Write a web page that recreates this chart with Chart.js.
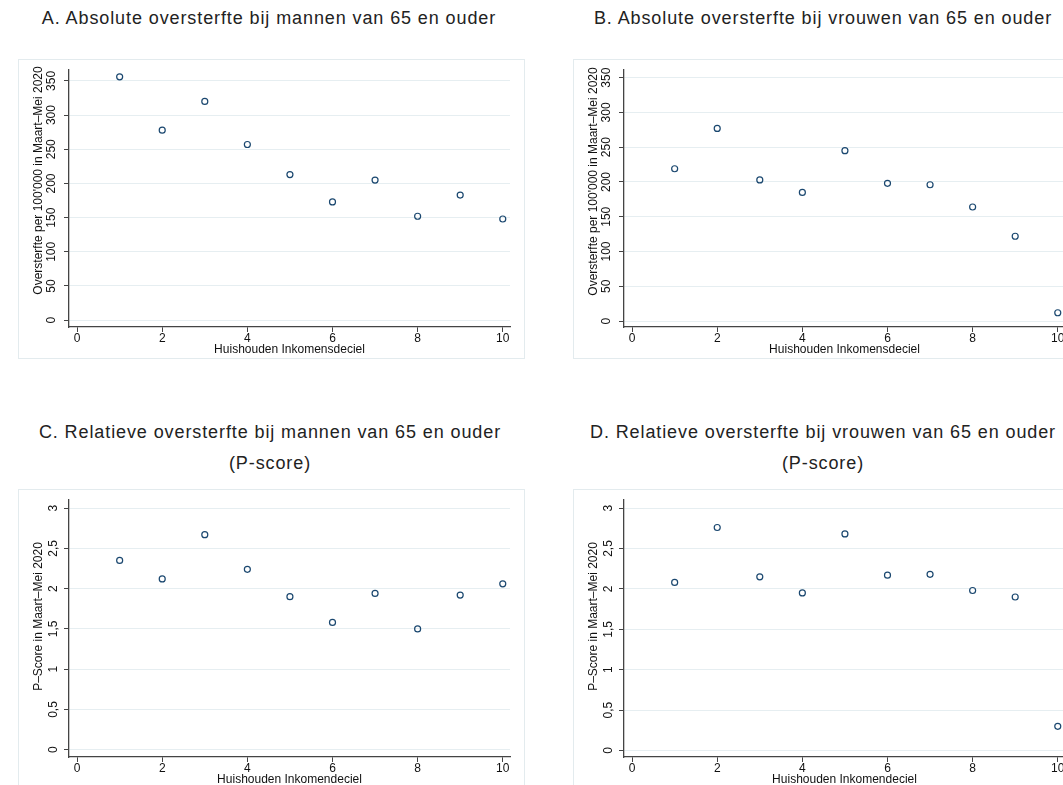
<!DOCTYPE html>
<html>
<head>
<meta charset="utf-8">
<script src="https://cdn.jsdelivr.net/npm/chart.js@4.4.1/dist/chart.umd.min.js"></script>
<style>
  html, body { margin: 0; padding: 0; background: #fff; }
  body { width: 1063px; height: 785px; overflow: hidden; position: relative;
         font-family: "Liberation Sans", Arial, Helvetica, sans-serif; }
  .title { position: absolute; width: 600px; text-align: center; font-size: 18px;
           letter-spacing: 0.9px; line-height: 31px; color: #222; white-space: nowrap; }
  .panel { position: absolute; width: 505px; height: 298px; border: 1px solid #e3ebee; }
  .panel canvas { display: block; }
</style>
</head>
<body>
<div class="title" style="left:-31px; top:3px;">A. Absolute oversterfte bij mannen van 65 en ouder</div>
<div class="title" style="left:523px; top:3px;">B. Absolute oversterfte bij vrouwen van 65 en ouder</div>
<div class="title" style="left:-30px; top:417px;">C. Relatieve oversterfte bij mannen van 65 en ouder<br>(P-score)</div>
<div class="title" style="left:523px; top:417px;">D. Relatieve oversterfte bij vrouwen van 65 en ouder<br>(P-score)</div>

<div class="panel" style="left:18px; top:59px;"><canvas id="chartA" width="505" height="298"></canvas></div>
<div class="panel" style="left:573px; top:59px;"><canvas id="chartB" width="505" height="298"></canvas></div>
<div class="panel" style="left:18px; top:489px;"><canvas id="chartC" width="505" height="298"></canvas></div>
<div class="panel" style="left:573px; top:489px;"><canvas id="chartD" width="505" height="298"></canvas></div>

<script>
// data
const deciles = [1, 2, 3, 4, 5, 6, 7, 8, 9, 10];
const absMen = [356, 278, 320, 257, 213, 173, 205, 152, 183, 148];
const absWomen = [219, 277, 203, 185, 245, 198, 196, 164, 122, 12];
const pMen = [2.35, 2.12, 2.67, 2.24, 1.90, 1.58, 1.94, 1.50, 1.92, 2.06];
const pWomen = [2.08, 2.76, 2.15, 1.95, 2.68, 2.17, 2.18, 1.98, 1.90, 0.30];

const xTicks = [0, 2, 4, 6, 8, 10];
const xTickLabels = ['0', '2', '4', '6', '8', '10'];
const absTicks = [0, 50, 100, 150, 200, 250, 300, 350];
const absTickLabels = ['0', '50', '100', '150', '200', '250', '300', '350'];
const pTicks = [0, 0.5, 1, 1.5, 2, 2.5, 3];
const pTickLabels = ['0', '0,5', '1', '1,5', '2', '2,5', '3'];

const absTitle = "Oversterfte per 100'000 in Maart\u2013Mei 2020";
const pTitle = 'P\u2013Score in Maart\u2013Mei 2020';
const xTitleAbs = 'Huishouden Inkomensdeciel';
const xTitleP = 'Huishouden Inkomendeciel';

const fontFamily = '"Liberation Sans", Arial, Helvetica, sans-serif';
Chart.defaults.font.family = fontFamily;
Chart.defaults.color = '#111';

const axisColor = '#444';
const gridColor = '#e6eef1';

// y title, drawn a bit above the middle of the axis like the original
const yTitlePlugin = {
    id: 'yTitle',
    afterDraw(chart, args, opts) {
        const { ctx, chartArea } = chart;
        ctx.save();
        ctx.translate(opts.x, (chartArea.top + chartArea.bottom) / 2 - opts.shift);
        ctx.rotate(-Math.PI / 2);
        ctx.font = '12px ' + fontFamily;
        ctx.fillStyle = '#111';
        ctx.textAlign = 'center';
        ctx.textBaseline = 'middle';
        ctx.fillText(opts.text, 0, 0);
        ctx.restore();
    }
};

function makePanel(id, values, yTicks, yLabels, yMin, yMax, yTitle, shift, xTitle) {
    const ctx = document.getElementById(id).getContext('2d');
    return new Chart(ctx, {
        type: 'scatter',
        data: {
            datasets: [{
                data: deciles.map((d, i) => ({ x: d, y: values[i] })),
                borderColor: '#1a476f',
                backgroundColor: 'rgba(0,0,0,0)',
                borderWidth: 1.2,
                pointRadius: 3,
                pointHoverRadius: 3
            }]
        },
        options: {
            responsive: false,
            animation: false,
            layout: { padding: { top: 10, right: 14, left: 0, bottom: 0 } },
            plugins: {
                legend: { display: false },
                tooltip: { enabled: false },
                yTitle: { text: yTitle, x: 20, shift: shift }
            },
            scales: {
                x: {
                    type: 'linear',
                    min: -0.19,
                    max: 10.17,
                    afterBuildTicks: s => { s.ticks = xTicks.map(v => ({ value: v })); },
                    afterFit: s => { s.height = 31; },
                    grid: { drawOnChartArea: false, tickLength: 5, tickColor: axisColor, tickWidth: 1 },
                    border: { color: axisColor, width: 1.3 },
                    ticks: { font: { size: 12 }, padding: -1, maxRotation: 0,
                             callback: (v, i) => xTickLabels[i] },
                    title: { display: true, text: xTitle, font: { size: 12 }, padding: { top: 0, bottom: 1 } }
                },
                y: {
                    type: 'linear',
                    min: yMin,
                    max: yMax,
                    afterBuildTicks: s => { s.ticks = yTicks.map(v => ({ value: v })); },
                    afterFit: s => { s.width = 50; },
                    grid: { color: gridColor, lineWidth: 1, tickLength: 5, tickColor: axisColor, tickWidth: 1 },
                    border: { color: axisColor, width: 1.3 },
                    ticks: { font: { size: 12 }, padding: 2.3, minRotation: 90, maxRotation: 90,
                             crossAlign: 'center', callback: (v, i) => yLabels[i] },
                    title: { display: false }
                }
            }
        },
        plugins: [yTitlePlugin]
    });
}

makePanel('chartA', absMen, absTicks, absTickLabels, -10, 366, absTitle, 18, xTitleAbs);
makePanel('chartB', absWomen, absTicks, absTickLabels, -8.5, 361, absTitle, 17, xTitleAbs);
makePanel('chartC', pMen, pTicks, pTickLabels, -0.09, 3.1, pTitle, 12, xTitleP);
makePanel('chartD', pWomen, pTicks, pTickLabels, -0.08, 3.1, pTitle, 12, xTitleP);
</script>
</body>
</html>
